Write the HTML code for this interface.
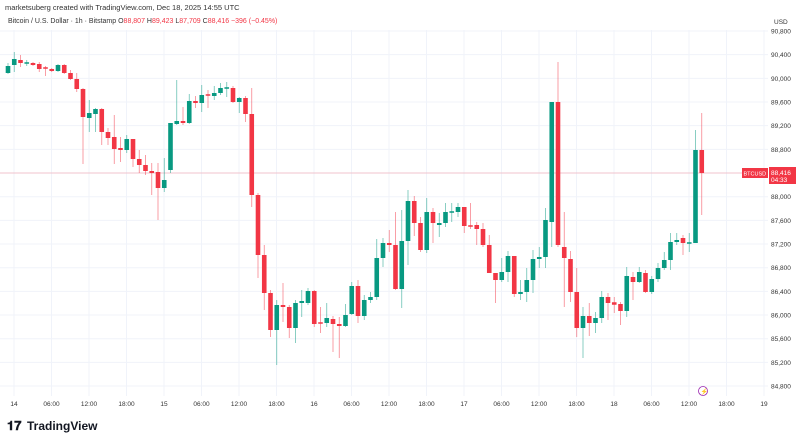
<!DOCTYPE html>
<html><head><meta charset="utf-8"><style>
body{margin:0;background:#fff;width:800px;height:441px;overflow:hidden;font-family:"Liberation Sans",sans-serif}
svg text{font-family:"Liberation Sans",sans-serif}
</style></head><body>
<svg id="s" width="800" height="441" xmlns="http://www.w3.org/2000/svg">
<rect width="800" height="441" fill="#fff"/>
<g id="grid"></g>
<g id="c"></g>
<text x="5" y="10" font-size="7.5" fill="#333">marketsuberg created with TradingView.com, Dec 18, 2025 14:55 UTC</text>
<text x="8" y="23" font-size="7" fill="#333">Bitcoin / U.S. Dollar · 1h · Bitstamp <tspan fill="#333">O</tspan><tspan fill="#f23645">88,807</tspan> <tspan fill="#333">H</tspan><tspan fill="#f23645">89,423</tspan> <tspan fill="#333">L</tspan><tspan fill="#f23645">87,709</tspan> <tspan fill="#333">C</tspan><tspan fill="#f23645">88,416  −396 (−0.45%)</tspan></text>
<text x="774" y="24" font-size="6.5" fill="#333">USD</text>
<rect x="742" y="168" width="26" height="10" fill="#f23645"/>
<text x="743.5" y="175.5" font-size="5.5" fill="#fff">BTCUSD</text>
<rect x="769" y="167" width="27" height="17" fill="#f23645"/>
<text x="771" y="175" font-size="6.5" fill="#fff">88,416</text>
<text x="771" y="182" font-size="6.5" fill="#fff">04:33</text>
<circle cx="703" cy="391" r="4.5" fill="#fff" stroke="#9c27b0" stroke-width="0.8"/>
<text x="700.5" y="393.5" font-size="6" fill="#9c27b0">⚡</text>
<text x="7" y="430" font-size="13" font-weight="bold" fill="#131722">𝟏𝟕</text>
<text x="27" y="430" font-size="12" font-weight="bold" fill="#131722">TradingView</text>
</svg>
<script>
var g=document.getElementById('grid'),c=document.getElementById('c'),NS='http://www.w3.org/2000/svg';
function el(p,t,a,txt){var e=document.createElementNS(NS,t);for(var k in a)e.setAttribute(k,a[k]);if(txt)e.textContent=txt;p.appendChild(e);return e;}
for(var i=0;i<16;i++){var p=90800-400*i,y=31+i*23.67;
el(g,'line',{x1:0,x2:768,y1:y,y2:y,stroke:'#f0f3fa','stroke-width':1});
if(Math.abs(y-173)>8)el(g,'text',{x:771,y:y+2.5,'font-size':6.5,fill:'#333'},(p+'').replace(/(\d\d)(\d{3})$/,'$1,$2'));}
var labs=['14','06:00','12:00','18:00','15','06:00','12:00','18:00','16','06:00','12:00','18:00','17','06:00','12:00','18:00','18','06:00','12:00','18:00','19'];
for(var i=0;i<labs.length;i++){var x=14+i*37.5;
el(g,'line',{x1:x,x2:x,y1:30,y2:396,stroke:'#f0f3fa','stroke-width':1});
el(g,'text',{x:x,y:406,'font-size':6.5,fill:'#333','text-anchor':'middle'},labs[i]);}
el(g,'line',{x1:0,x2:768,y1:173,y2:173,stroke:'#f23645','stroke-width':0.6,'stroke-opacity':0.5});
var d=[[73,66,63,74],[65,59,52,72],[60,63,55,67],[63,63,60,66],[63,65,62,66],[64,69,62,72],[68,68,66,76],[69,71,68,72],[71,65,64,72],[65,73,64,74],[73,79,70,80],[79,89,73,92],[89,117,88,164],[118,113,100,132],[114,109,108,132],[109,132,108,145],[132,138,128,145],[137,149,115,164],[148,150,137,162],[150,139,135,153],[139,159,139,167],[159,165,150,173],[165,171,155,175],[171,173,163,195],[172,188,163,220],[188,180,158,192],[170,123,123,173],[124,121,80,125],[121,123,107,125],[123,101,94,124],[101,103,96,108],[103,95,85,112],[95,95,90,108],[96,93,86,100],[93,88,83,95],[88,88,82,97],[88,102,86,103],[102,98,97,113],[98,114,96,122],[114,195,88,207],[195,255,193,278],[255,293,245,310],[293,330,290,337],[330,305,300,365],[305,307,283,322],[307,328,305,338],[328,303,300,343],[303,301,290,317],[303,291,288,305],[291,324,290,327],[323,323,307,333],[323,318,303,327],[319,324,316,352],[324,326,317,358],[326,315,304,327],[314,286,282,315],[286,316,280,323],[316,300,295,320],[300,297,292,303],[297,258,239,300],[258,243,238,267],[243,245,230,252],[245,289,212,290],[289,241,210,308],[241,201,190,265],[201,223,196,236],[223,250,217,252],[250,212,198,253],[212,223,208,243],[225,223,213,237],[223,212,203,227],[212,212,203,222],[212,207,203,217],[207,226,207,233],[226,226,203,229],[225,229,222,245],[229,245,223,247],[245,273,235,273],[273,280,273,303],[280,272,258,282],[272,256,251,282],[256,294,256,297],[294,292,280,300],[292,280,268,302],[280,259,250,293],[259,257,247,268],[257,220,208,268],[222,102,102,247],[102,245,62,247],[247,258,212,307],[259,292,251,302],[292,328,268,337],[328,316,307,358],[316,323,303,336],[323,318,312,333],[318,297,291,323],[297,303,293,320],[303,304,297,313],[304,311,302,325],[311,276,267,317],[277,282,272,300],[282,272,267,283],[273,292,270,293],[292,279,276,294],[279,268,263,282],[268,260,252,270],[260,242,233,270],[242,240,233,245],[238,243,235,255],[243,243,233,252],[243,150,130,243],[150,173,113,215]];
for(var i=0;i<d.length;i++){var x=8+i*6.25,o=d[i][0],cl=d[i][1],h=d[i][2],l=d[i][3];
var col=cl<o?'#089981':'#f23645';if(cl==o)col=(i%2?'#089981':'#f23645');
el(c,'line',{x1:x,x2:x,y1:h,y2:l,stroke:col,'stroke-width':0.8,'stroke-opacity':0.6});
var t=Math.min(o,cl),b=Math.max(o,cl);if(b-t<1.5){t-=0.75;b+=0.75;}
el(c,'rect',{x:x-2.3,y:t,width:4.6,height:b-t,fill:col});}
</script>
</body></html>
